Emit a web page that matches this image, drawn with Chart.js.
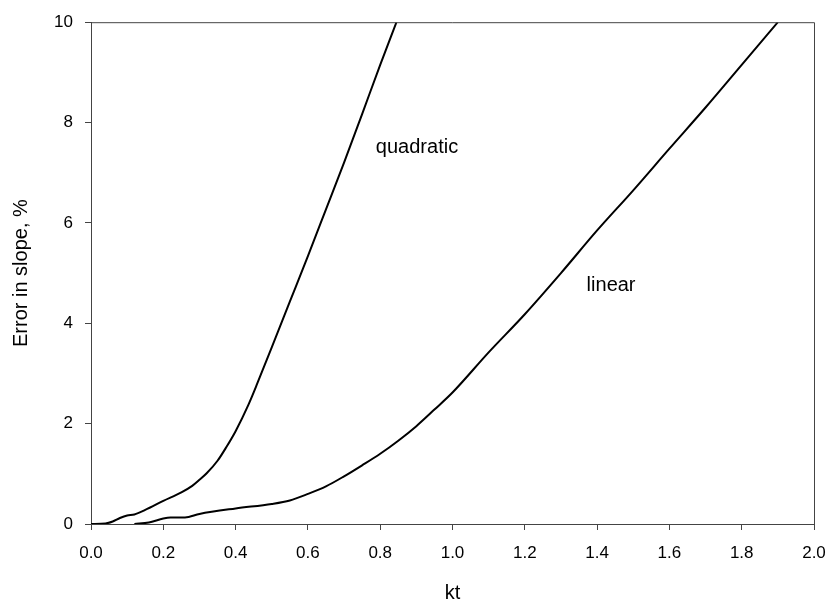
<!DOCTYPE html>
<html>
<head>
<meta charset="utf-8">
<script src="https://cdn.jsdelivr.net/npm/chart.js@4.4.1/dist/chart.umd.min.js"></script>
<style>
  html, body { margin: 0; padding: 0; background: #fff; }
  #errChart { display: block; }
</style>
</head>
<body>
<canvas id="errChart" width="830" height="605"></canvas>
<script>
// values
const quadKt = [0, 0.04, 0.06, 0.08, 0.1, 0.12, 0.15, 0.2, 0.25, 0.28, 0.3, 0.32, 0.35, 0.375, 0.4, 0.435, 0.46, 0.5, 0.55, 0.6, 0.65, 0.7, 0.75, 0.8, 0.845];
const quadErr = [0, 0.01, 0.05, 0.12, 0.17, 0.19, 0.28, 0.46, 0.63, 0.76, 0.88, 1.01, 1.26, 1.54, 1.85, 2.37, 2.8, 3.52, 4.43, 5.34, 6.27, 7.2, 8.17, 9.15, 10.0];

const linKt = [0.12, 0.16, 0.2, 0.22, 0.26, 0.3, 0.4, 0.5, 0.55, 0.6, 0.65, 0.7, 0.75, 0.8, 0.85, 0.9, 0.95, 1.0, 1.1, 1.2, 1.3, 1.4, 1.5, 1.6, 1.7, 1.8, 1.9];
const linErr = [0, 0.03, 0.11, 0.13, 0.13, 0.2, 0.31, 0.4, 0.47, 0.6, 0.75, 0.95, 1.17, 1.4, 1.66, 1.95, 2.28, 2.62, 3.42, 4.18, 5.0, 5.85, 6.65, 7.48, 8.3, 9.15, 10.0];

const xTicks = [0, 0.2, 0.4, 0.6, 0.8, 1.0, 1.2, 1.4, 1.6, 1.8, 2.0];
const yTicks = [0, 2, 4, 6, 8, 10];

// curve labels, placed in data units
const noteText = ["quadratic", "linear"];
const noteKt = [0.788, 1.371];
const noteErr = [7.40, 4.65];

const FONT = "'Liberation Sans', Arial, sans-serif";

function toPoints(xs, ys) {
  return xs.map((x, i) => ({ x: x, y: ys[i] }));
}

// frame on top and right of the plot
const framePlugin = {
  id: "frame",
  afterDraw(chart) {
    const { ctx, chartArea: a } = chart;
    ctx.save();
    ctx.strokeStyle = "#444";
    ctx.lineWidth = 1;
    ctx.beginPath();
    ctx.moveTo(a.left, a.top + 0.5);
    ctx.lineTo(a.right + 0.5, a.top + 0.5);
    ctx.lineTo(a.right + 0.5, a.bottom);
    ctx.stroke();
    ctx.restore();
  }
};

const notesPlugin = {
  id: "notes",
  afterDatasetsDraw(chart) {
    const { ctx, scales } = chart;
    ctx.save();
    ctx.fillStyle = "#000";
    ctx.font = "20px " + FONT;
    ctx.textAlign = "left";
    ctx.textBaseline = "alphabetic";
    noteText.forEach((t, i) => {
      ctx.fillText(t, scales.x.getPixelForValue(noteKt[i]), scales.y.getPixelForValue(noteErr[i]));
    });
    ctx.restore();
  }
};

new Chart(document.getElementById("errChart"), {
  type: "line",
  data: {
    datasets: [
      {
        label: "quadratic",
        data: toPoints(quadKt, quadErr),
        borderColor: "#000",
        borderWidth: 2,
        pointRadius: 0,
        cubicInterpolationMode: "monotone",
        fill: false
      },
      {
        label: "linear",
        data: toPoints(linKt, linErr),
        borderColor: "#000",
        borderWidth: 2,
        pointRadius: 0,
        cubicInterpolationMode: "monotone",
        fill: false
      }
    ]
  },
  options: {
    responsive: false,
    animation: false,
    devicePixelRatio: 1,
    layout: { padding: { top: 21, right: 16, left: 0, bottom: 0 } },
    plugins: {
      legend: { display: false },
      tooltip: { enabled: false }
    },
    scales: {
      x: {
        type: "linear",
        min: 0,
        max: 2,
        afterBuildTicks(scale) {
          scale.ticks = xTicks.map(v => ({ value: v }));
        },
        afterFit(scale) {
          scale.height = 81;
          scale.paddingLeft = 0;
          scale.paddingRight = 0;
        },
        ticks: {
          color: "#000",
          font: { family: FONT, size: 17 },
          padding: 13,
          maxRotation: 0,
          autoSkip: false,
          callback: v => Number(v).toFixed(1)
        },
        grid: { drawOnChartArea: false, drawTicks: true, tickLength: 6, color: "#444" },
        border: { display: true, color: "#444", width: 1 },
        title: {
          display: true,
          text: "kt",
          color: "#000",
          font: { family: FONT, size: 20 },
          padding: { top: 0, bottom: 0 }
        }
      },
      y: {
        type: "linear",
        min: 0,
        max: 10,
        afterBuildTicks(scale) {
          scale.ticks = yTicks.map(v => ({ value: v }));
        },
        afterFit(scale) {
          scale.width = 91;
        },
        ticks: {
          color: "#000",
          font: { family: FONT, size: 17 },
          padding: 12,
          autoSkip: false,
          callback: v => String(v)
        },
        grid: { drawOnChartArea: false, drawTicks: true, tickLength: 6, color: "#444" },
        border: { display: true, color: "#444", width: 1 },
        title: {
          display: true,
          text: "Error in slope, %",
          color: "#000",
          font: { family: FONT, size: 20 },
          padding: { top: 9, bottom: 0 }
        }
      }
    }
  },
  plugins: [framePlugin, notesPlugin]
});
</script>
</body>
</html>
